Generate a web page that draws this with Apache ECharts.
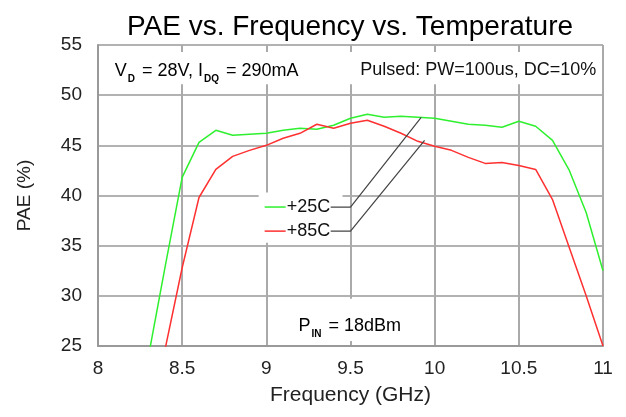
<!DOCTYPE html>
<html>
<head>
<meta charset="utf-8">
<script src="https://cdn.jsdelivr.net/npm/echarts@6/dist/echarts.min.js"></script>
<style>
html,body{margin:0;padding:0;background:#fff;}
#chart{width:626px;height:417px;}
</style>
</head>
<body>
<div id="chart"></div>
<script>
// ---- data ----
const title = 'PAE vs. Frequency vs. Temperature';
const xName = 'Frequency (GHz)';
const yName = 'PAE (%)';
const freqGHz = [8.3, 8.4, 8.5, 8.6, 8.7, 8.8, 8.9, 9.0, 9.1, 9.2, 9.3, 9.4, 9.5, 9.6, 9.7, 9.8, 9.9, 10.0, 10.1, 10.2, 10.3, 10.4, 10.5, 10.6, 10.7, 10.8, 10.9, 11.0];
const pae25C = [24.0, 33.0, 41.8, 45.3, 46.5, 46.0, 46.1, 46.2, 46.5, 46.7, 46.6, 47.0, 47.7, 48.1, 47.8, 47.9, 47.8, 47.7, 47.4, 47.1, 47.0, 46.8, 47.4, 46.9, 45.5, 42.5, 38.3, 32.5];
const pae85C = [null, 24.8, 32.8, 39.8, 42.6, 43.9, 44.5, 45.0, 45.7, 46.2, 47.1, 46.7, 47.2, 47.5, 46.9, 46.2, 45.4, 44.9, 44.5, 43.8, 43.2, 43.3, 43.0, 42.6, 39.6, 34.8, 30.0, 25.0];
const seriesNames = ['+25C', '+85C'];
const seriesColors = ['#2ef02e', '#ff3030'];
const xTicks = {min: 8, max: 11, interval: 0.5};
const yTicks = {min: 25, max: 55, interval: 5};

const FONT = '"Liberation Sans", Arial, sans-serif';
const chart = echarts.init(document.getElementById('chart'));

function pairs(ys) { return freqGHz.map((f, i) => [f, ys[i]]); }

const option = {
  animation: false,
  backgroundColor: '#fff',
  title: {
    text: title, left: 345, top: 8, textAlign: 'center',
    textStyle: {fontFamily: FONT, fontSize: 28, fontWeight: 'normal', color: '#000'}
  },
  grid: {left: 98, right: 23, top: 45, bottom: 71, show: false},
  xAxis: {
    type: 'value', min: xTicks.min, max: xTicks.max, interval: xTicks.interval,
    name: xName, nameLocation: 'middle', nameGap: 39,
    nameTextStyle: {fontFamily: FONT, fontSize: 21, color: '#222', verticalAlign: 'top'},
    axisLine: {show: true, lineStyle: {color: '#999', width: 2}},
    axisTick: {show: false},
    axisLabel: {fontFamily: FONT, fontSize: 19, color: '#222', margin: 13},
    splitLine: {show: true, lineStyle: {color: '#aaa', width: 2}}
  },
  yAxis: {
    type: 'value', min: yTicks.min, max: yTicks.max, interval: yTicks.interval,
    name: yName, nameLocation: 'middle', nameGap: 64,
    nameTextStyle: {fontFamily: FONT, fontSize: 19, color: '#222'},
    axisLine: {show: true, lineStyle: {color: '#999', width: 2}},
    axisTick: {show: false},
    axisLabel: {fontFamily: FONT, fontSize: 19, color: '#222', margin: 16},
    splitLine: {show: true, lineStyle: {color: '#999', width: 1.5}}
  },
  series: [
    {name: seriesNames[0], type: 'line', data: pairs(pae25C), showSymbol: false, clip: true,
     lineStyle: {color: seriesColors[0], width: 1.5}, itemStyle: {color: seriesColors[0]}, z: 3},
    {name: seriesNames[1], type: 'line', data: pairs(pae85C), showSymbol: false, clip: true,
     lineStyle: {color: seriesColors[1], width: 1.5}, itemStyle: {color: seriesColors[1]}, z: 4}
  ]
};
chart.setOption(option);

function P(x, y) { return chart.convertToPixel({gridIndex: 0}, [x, y]); }

const txt = {fontFamily: FONT, fontSize: 18, fill: '#111'};
const rich = {
  a: {fontFamily: FONT, fontSize: 18, color: '#111', verticalAlign: 'bottom', lineHeight: 20},
  s: {fontFamily: FONT, fontSize: 10, fontWeight: 'bold', color: '#111', verticalAlign: 'bottom', lineHeight: 20, padding: [0, 2, -4, 1]}
};

// annotation band at top
const bandTL = P(8.01, 54.3), bandBR = P(10.99, 51.1);
// legend box
const legTL = P(7.98, 40.3), legBR = P(9.44, 35.3);
const legL = P(8.99, 0)[0];
// P_IN box
const pinTL = P(9.15, 29.7), pinBR = P(9.85, 25.5);
const pinC = P(9.5, 27.1);

const y25 = P(9.5, 38.85)[1], y85 = P(9.5, 36.45)[1];
const legTextX = legL + 22;
const leaderStart = P(9.5, 0)[0];
const end25 = P(9.92, 47.78), end85 = P(9.94, 45.5);

chart.setOption({
  graphic: [
    {type: 'rect', shape: {x: bandTL[0], y: bandTL[1], width: bandBR[0] - bandTL[0], height: bandBR[1] - bandTL[1]},
     style: {fill: '#fff'}, z: 10},
    {type: 'text', x: P(8.1, 0)[0], y: P(0, 52.5)[1], z: 11,
     style: {text: '{a|V}{s|D}{a| = 28V, I}{s|DQ}{a| = 290mA}', rich: rich, verticalAlign: 'middle'}},
    {type: 'text', x: P(10.96, 0)[0], y: P(0, 52.5)[1], z: 11,
     style: Object.assign({text: 'Pulsed: PW=100us, DC=10%', align: 'right', verticalAlign: 'middle'}, txt)},

    {type: 'rect', shape: {x: legL - 6, y: legTL[1], width: leaderStart - 8 - (legL - 6), height: legBR[1] - legTL[1]},
     style: {fill: '#fff'}, z: 10},
    {type: 'line', shape: {x1: legL, y1: y25, x2: legL + 21, y2: y25}, style: {stroke: seriesColors[0], lineWidth: 1.5}, z: 11},
    {type: 'line', shape: {x1: legL, y1: y85, x2: legL + 21, y2: y85}, style: {stroke: seriesColors[1], lineWidth: 1.5}, z: 11},
    {type: 'text', x: legTextX, y: y25, z: 11, style: Object.assign({text: seriesNames[0], verticalAlign: 'middle'}, txt)},
    {type: 'text', x: legTextX, y: y85, z: 11, style: Object.assign({text: seriesNames[1], verticalAlign: 'middle'}, txt)},
    {type: 'polyline', shape: {points: [[legTextX + 44, y25], [leaderStart, y25], end25]}, style: {stroke: '#444', lineWidth: 1.2, fill: null}, z: 12},
    {type: 'polyline', shape: {points: [[legTextX + 44, y85], [leaderStart, y85], end85]}, style: {stroke: '#444', lineWidth: 1.2, fill: null}, z: 12},

    {type: 'rect', shape: {x: pinTL[0], y: pinTL[1], width: pinBR[0] - pinTL[0], height: pinBR[1] - pinTL[1]},
     style: {fill: '#fff'}, z: 10},
    {type: 'text', x: pinC[0] - 52, y: pinC[1], z: 11,
     style: {text: '{a|P}{s|IN}{a| = 18dBm}', rich: rich, verticalAlign: 'middle'}}
  ]
});
</script>
</body>
</html>
